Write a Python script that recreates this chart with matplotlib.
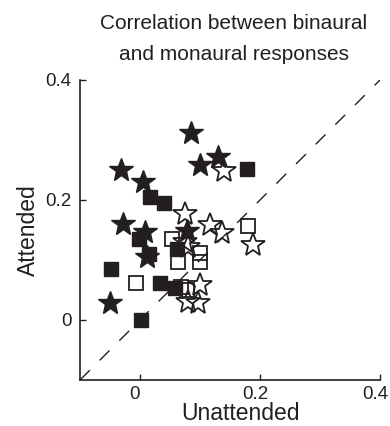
import matplotlib
matplotlib.use("Agg")
import matplotlib.pyplot as plt
from matplotlib.transforms import ScaledTranslation

plt.rcParams['font.family'] = ['Liberation Sans', 'DejaVu Sans']

INK = '#231f20'

# Data (unattended, attended)
filled_star_x = [0.085, -0.032, 0.100, 0.130, 0.005, -0.028, 0.008, 0.012, 0.078, -0.050]
filled_star_y = [0.312, 0.250, 0.258, 0.272, 0.230, 0.160, 0.147, 0.105, 0.148, 0.028]

open_star_x = [0.075, 0.117, 0.137, 0.188, 0.140, 0.075, 0.080, 0.100, 0.080, 0.097]
open_star_y = [0.177, 0.158, 0.145, 0.125, 0.248, 0.130, 0.122, 0.058, 0.030, 0.028]

filled_sq_x = [0.178, 0.017, 0.040, -0.002, 0.015, 0.062, -0.048, 0.033, 0.058, 0.002]
filled_sq_y = [0.252, 0.205, 0.195, 0.135, 0.110, 0.118, 0.085, 0.062, 0.053, 0.000]

open_sq_x = [0.180, 0.053, 0.063, 0.100, 0.100, -0.007, 0.068, 0.078]
open_sq_y = [0.157, 0.135, 0.097, 0.112, 0.097, 0.062, 0.055, 0.050]

diag = [-0.1, 0.4]
ticks = [0, 0.2, 0.4]
tick_labels = ['0', '0.2', '0.4']

fig = plt.figure(figsize=(3.9, 4.26), dpi=100)
ax = fig.add_axes([80/390, 1-380/426, 300/390, 300/426])

ax.plot(diag, diag, linestyle=(0, (10, 10)), color=INK, linewidth=1.0, zorder=1)

ax.plot(open_star_x, open_star_y, linestyle='none', marker='*', markersize=18,
        markerfacecolor='none', markeredgecolor=INK, markeredgewidth=1.3, zorder=2)
ax.plot(open_sq_x, open_sq_y, linestyle='none', marker='s', markersize=10.5,
        markerfacecolor='none', markeredgecolor=INK, markeredgewidth=1.3, zorder=2)
ax.plot(filled_star_x, filled_star_y, linestyle='none', marker='*', markersize=18,
        markerfacecolor=INK, markeredgecolor=INK, markeredgewidth=1.0, zorder=3)
ax.plot(filled_sq_x, filled_sq_y, linestyle='none', marker='s', markersize=10.5,
        markerfacecolor=INK, markeredgecolor=INK, markeredgewidth=1.0, zorder=3)

ax.set_xlim(-0.1, 0.4)
ax.set_ylim(-0.1, 0.4)
ax.set_xticks(ticks)
ax.set_xticklabels(tick_labels)
ax.set_yticks(ticks)
ax.set_yticklabels(tick_labels)
for s in ['top', 'right']:
    ax.spines[s].set_visible(False)
for s in ['left', 'bottom']:
    ax.spines[s].set_color(INK)
    ax.spines[s].set_linewidth(1.2)
ax.tick_params(direction='in', length=4, width=1.0, color=INK,
               labelsize=13.5, labelcolor=INK)
ax.tick_params(axis='x', pad=4)
ax.tick_params(axis='y', pad=6)

# reference's x tick labels sit slightly left of their ticks
shift = ScaledTranslation(-5/100, 0, fig.dpi_scale_trans)
for lbl in ax.get_xticklabels():
    lbl.set_transform(lbl.get_transform() + shift)

ax.set_xlabel('Unattended', fontsize=16.5, color=INK, labelpad=0)
ax.xaxis.set_label_coords(0.535, -0.075)
ax.set_ylabel('Attended', fontsize=16.5, color=INK, labelpad=4)

fig.text(234/390, 1-39/426, 'Correlation between binaural\nand monaural responses',
         ha='center', va='center', fontsize=15, color=INK, linespacing=1.75)

fig.savefig('out.png', dpi=100)
